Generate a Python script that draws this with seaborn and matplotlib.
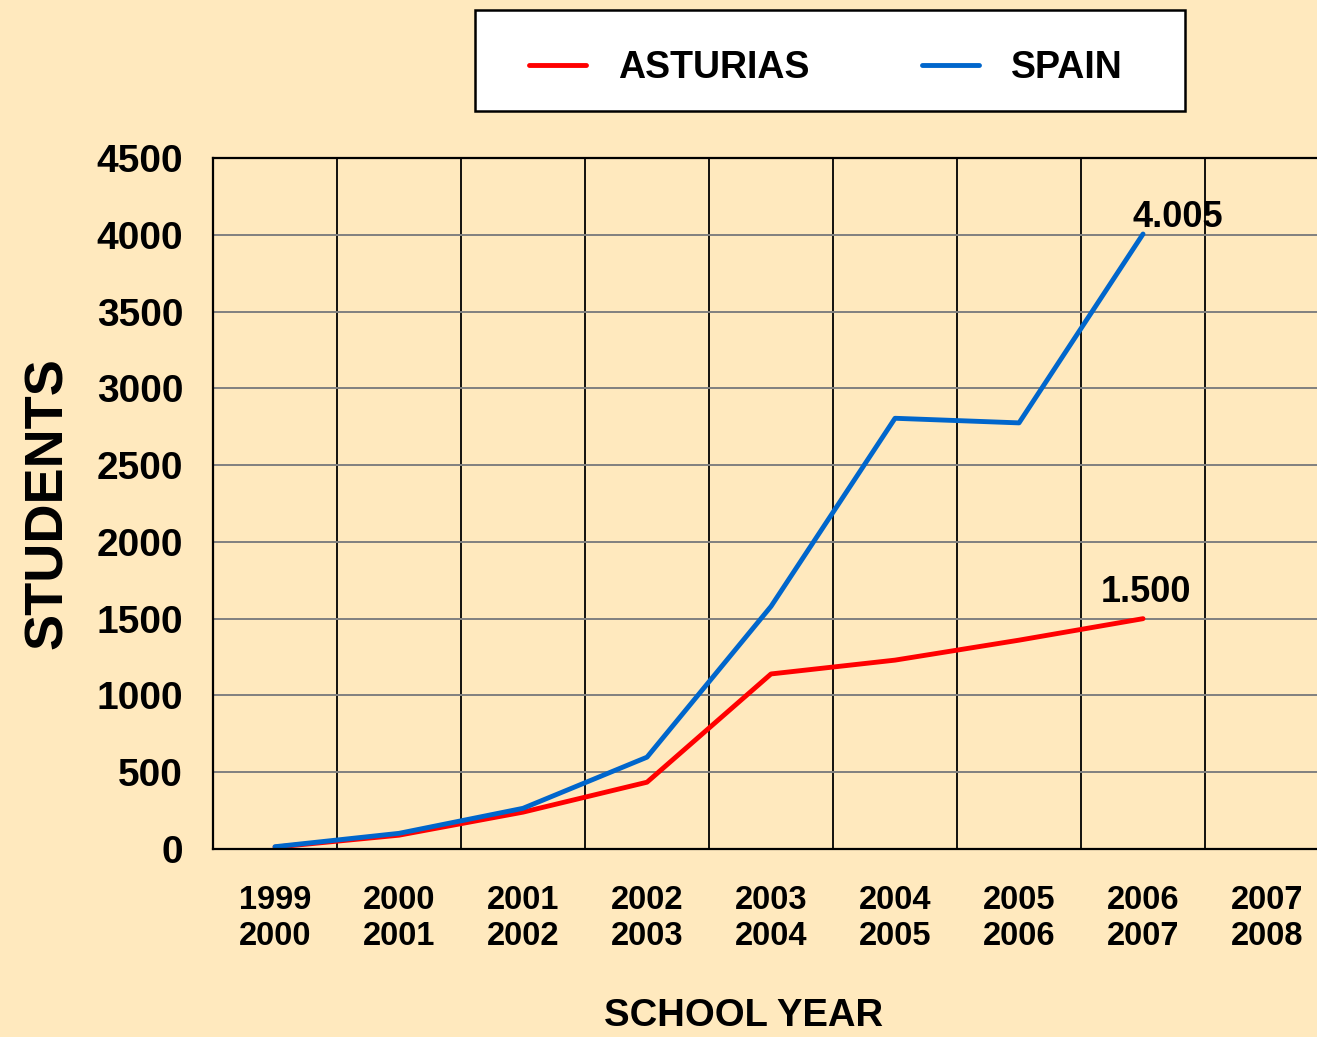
import numpy as np
import pandas as pd
import matplotlib.pyplot as plt
import seaborn as sns
from matplotlib.patches import Rectangle

# school years (two-line labels) and students per region
years = ["1999\n2000", "2000\n2001", "2001\n2002", "2002\n2003", "2003\n2004",
         "2004\n2005", "2005\n2006", "2006\n2007", "2007\n2008"]
asturias = [12, 90, 240, 435, 1140, 1230, 1360, 1500]
spain = [15, 102, 265, 598, 1580, 2805, 2775, 4005]
y_ticks = [0, 500, 1000, 1500, 2000, 2500, 3000, 3500, 4000, 4500]

df = pd.concat([
    pd.DataFrame({"pos": range(len(asturias)), "students": asturias, "region": "ASTURIAS"}),
    pd.DataFrame({"pos": range(len(spain)), "students": spain, "region": "SPAIN"}),
])

bg = "#FFE9BE"
sns.set_style("white")
plt.rcParams["font.family"] = ["Liberation Sans", "DejaVu Sans"]
plt.rcParams["font.weight"] = "bold"
plt.rcParams["text.color"] = "black"
plt.rcParams["axes.labelcolor"] = "black"
plt.rcParams["xtick.color"] = "black"
plt.rcParams["ytick.color"] = "black"

fig = plt.figure(figsize=(13.17, 10.37), dpi=100, facecolor=bg)
ax = fig.add_axes([213 / 1317, 1 - 849 / 1037, 1 - 213 / 1317, (849 - 158) / 1037])
ax.set_facecolor(bg)

sns.lineplot(data=df, x="pos", y="students", hue="region",
             palette={"ASTURIAS": "#FF0000", "SPAIN": "#0066CC"},
             linewidth=3.5, ax=ax, solid_capstyle="round")

ax.set_xlim(-0.5, 8.403)
ax.set_ylim(0, 4500)
ax.set_yticks(y_ticks)
ax.set_yticklabels([str(v) for v in y_ticks], fontsize=28, fontweight="bold")
ax.set_xticks(range(len(years)))
ax.set_xticklabels(years, fontsize=23.5, fontweight="bold", linespacing=1.2)
ax.set_xticks(np.arange(-0.5, len(years) - 0.5), minor=True)

ax.tick_params(axis="y", which="major", direction="out", length=9.5, width=1.5,
               color="black", pad=12)
ax.tick_params(axis="x", which="major", length=0, pad=26)
ax.tick_params(axis="x", which="minor", length=0)

ax.grid(axis="y", which="major", color="#808080", linewidth=1.4)
ax.grid(axis="x", which="minor", color="black", linewidth=1.3)
ax.grid(axis="x", which="major", visible=False)

for side in ["left", "bottom", "top"]:
    ax.spines[side].set_visible(True)
    ax.spines[side].set_color("black")
    ax.spines[side].set_linewidth(1.6)
ax.spines["right"].set_visible(False)

ax.set_ylabel("STUDENTS", fontsize=39, fontweight="bold")
ax.yaxis.set_label_coords(-0.127, 0.5)
ax.set_xlabel("SCHOOL YEAR", fontsize=27.5, fontweight="bold", va="top")
ax.xaxis.set_label_coords(0.481, -0.216)

# end-of-series value labels
ax.annotate("4.005", (len(spain) - 1, spain[-1]), xytext=(25, 5),
            textcoords="offset points", ha="center", va="baseline",
            fontsize=26, fontweight="bold")
ax.annotate("1.500", (len(asturias) - 1, asturias[-1]), xytext=(2, 12),
            textcoords="offset points", ha="center", va="baseline",
            fontsize=26, fontweight="bold")

# legend box on top of the figure
fig.patches.append(Rectangle((475 / 1317, 1 - 111 / 1037), 710 / 1317, 101 / 1037,
                             transform=fig.transFigure, facecolor="white",
                             edgecolor="black", linewidth=1.8, zorder=1))
handles, labels = ax.get_legend_handles_labels()
ax.get_legend().remove()
fig.legend(handles, labels, ncol=2, loc="center",
           bbox_to_anchor=(826 / 1317, 1 - 68 / 1037),
           frameon=False, borderpad=0, borderaxespad=0,
           handlelength=1.52, handletextpad=0.85, columnspacing=3.0,
           prop={"size": 27, "weight": "bold"})

fig.savefig("out.png", dpi=100, facecolor=bg)
